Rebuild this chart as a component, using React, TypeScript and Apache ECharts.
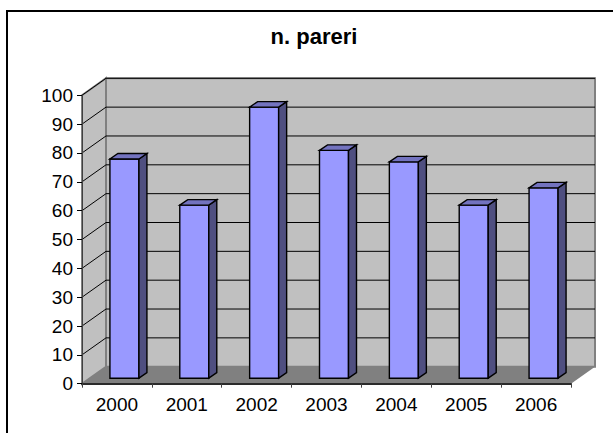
import React, { useEffect, useRef } from "react";
import * as echarts from "echarts";

const titleText = "n. pareri";
const categories = ["2000", "2001", "2002", "2003", "2004", "2005", "2006"];
const pareri = [76, 60, 94, 79, 75, 60, 66];
const yTicks = [10, 20, 30, 40, 50, 60, 70, 80, 90, 100];

const FONT = '"Liberation Sans", Arial, sans-serif';
const DX = 24;
const DY = -17;

function poly(points: number[][], fill: string, stroke: string | null, lineWidth = 1) {
  return {
    type: "polygon",
    shape: { points },
    style: { fill, stroke: stroke ?? undefined, lineWidth: stroke ? lineWidth : 0 },
  };
}

function renderWalls(params: any) {
  const c = params.coordSys;
  const l = c.x, r = c.x + c.width, t = c.y, b = c.y + c.height;
  return {
    type: "group",
    children: [
      poly([[l, t], [l + DX, t + DY], [l + DX, b + DY], [l, b]], "#c0c0c0", "#808080", 2),
      poly([[l + DX, t + DY], [r + DX, t + DY], [r + DX, b + DY], [l + DX, b + DY]], "#c0c0c0", "#808080", 2),
      poly([[l, b], [l + DX, b + DY], [r + DX, b + DY], [r, b]], "#808080", null),
    ],
  };
}

function renderGrid(params: any, api: any) {
  const c = params.coordSys;
  const l = c.x, r = c.x + c.width;
  const y = api.coord([0, api.value(1)])[1];
  return {
    type: "polyline",
    shape: { points: [[l, y], [l + DX, y + DY], [r + DX, y + DY]] },
    style: { stroke: "#000000", lineWidth: 1, fill: "none" },
  };
}

function renderBar(_params: any, api: any) {
  const [cx, top0] = api.coord([api.value(0), api.value(1)]);
  const [, base0] = api.coord([api.value(0), 0]);
  const w = 29, off = 7.5, lift = -5.5;
  const l = cx + off - w / 2, r = l + w;
  const top = top0 + lift, base = base0 + lift;
  const dx = 8, dy = -5.5;
  return {
    type: "group",
    children: [
      poly([[l, base], [r, base], [r, top], [l, top]], "#9999ff", "#000000", 1.4),
      poly([[r, base], [r + dx, base + dy], [r + dx, top + dy], [r, top]], "#4f4f80", "#000000", 1.4),
      poly([[l, top], [r, top], [r + dx, top + dy], [l + dx, top + dy]], "#7373bf", "#000000", 1.4),
    ],
  };
}

export default function App() {
  const ref = useRef<HTMLDivElement>(null);
  useEffect(() => {
    document.body.style.margin = "0";
    const chart = echarts.init(ref.current!, null, { renderer: "svg" });
    chart.setOption({
      animation: false,
      backgroundColor: "#ffffff",
      title: {
        text: titleText,
        left: 309,
        top: 20,
        textAlign: "center",
        textStyle: { fontFamily: FONT, fontSize: 22, fontWeight: "bold", color: "#000000" },
      },
      grid: { left: 82, width: 489, top: 95.3, height: 288.4 },
      xAxis: {
        type: "category",
        data: categories,
        z: 5,
        axisLine: { show: true, lineStyle: { color: "#2b2b2b", width: 2 } },
        axisTick: { show: true, alignWithLabel: false, length: 4, lineStyle: { color: "#404040" } },
        axisLabel: { fontFamily: FONT, fontSize: 19, color: "#000000", margin: 11 },
      },
      yAxis: {
        type: "value",
        min: 0,
        max: 100,
        interval: 10,
        z: 5,
        splitLine: { show: false },
        axisLine: { show: true, lineStyle: { color: "#404040", width: 1 } },
        axisTick: { show: true, length: 5, lineStyle: { color: "#000000" } },
        axisLabel: { fontFamily: FONT, fontSize: 19, color: "#000000", margin: 9 },
      },
      graphic: [
        { type: "line", shape: { x1: 7, y1: 11, x2: 613, y2: 11 }, style: { stroke: "#000000", lineWidth: 2 } },
        { type: "line", shape: { x1: 7, y1: 10, x2: 7, y2: 433 }, style: { stroke: "#000000", lineWidth: 2 } },
      ],
      series: [
        { type: "custom", data: [[0, 0]], renderItem: renderWalls, z: 1, silent: true },
        { type: "custom", data: yTicks.map((t) => [0, t]), renderItem: renderGrid, z: 2, silent: true },
        { type: "custom", data: pareri.map((v, i) => [i, v]), renderItem: renderBar, z: 3, silent: true },
      ],
    });
    return () => chart.dispose();
  }, []);
  return <div ref={ref} style={{ position: "absolute", left: 0, top: 0, width: 613, height: 433 }} />;
}
